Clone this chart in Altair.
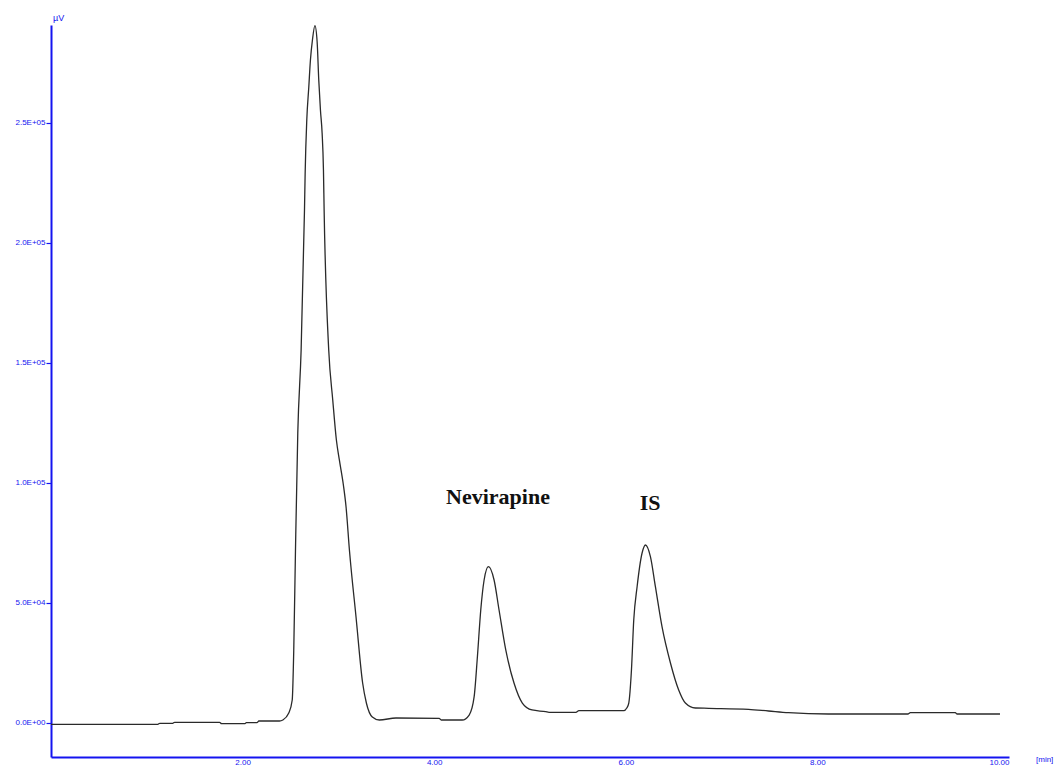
import altair as alt
import pandas as pd

# retention time (min) and detector response (µV)
time_min = [0.00, 1.115, 1.135, 1.27, 1.29, 1.76, 1.78, 2.02, 2.04, 2.15, 2.17, 2.385,
            2.42, 2.482, 2.518, 2.534, 2.552, 2.576, 2.611, 2.646, 2.653, 2.670, 2.691,
            2.708, 2.729, 2.755, 2.778, 2.795, 2.8125, 2.830, 2.844, 2.851, 2.899, 2.941,
            2.979, 3.010, 3.052, 3.080, 3.115, 3.184, 3.253, 3.292, 3.354, 3.427, 3.601,
            4.052, 4.073, 4.292, 4.365, 4.417, 4.451, 4.486, 4.521, 4.566, 4.625, 4.677,
            4.747, 4.833, 4.920, 5.021, 5.164, 5.198, 5.479, 5.510, 5.979, 6.010, 6.031,
            6.059, 6.083, 6.118, 6.170, 6.205, 6.257, 6.309, 6.378, 6.466, 6.552, 6.622,
            6.726, 6.865, 7.281, 7.490, 7.698, 8.115, 8.948, 8.970, 9.440, 9.458, 9.906]
signal_uv = [-540, -540, -125, -125, 290, 290, -290, -290, 125, 125, 830, 830,
             1250, 4170, 9580, 30400, 72100, 120800, 155400, 213750, 229170, 251250, 265000,
             276250, 284580, 290600, 283870, 267900, 255400, 245800, 230400, 213750, 155400, 134600,
             117900, 109600, 99170, 90000, 72100, 44170, 16670, 8330, 2500, 1250, 2080,
             1960, 1250, 1250, 3330, 10960, 27625, 47080, 59580, 65125, 59580, 47080,
             30420, 16670, 8330, 5420, 4710, 4460, 4460, 5125, 5125, 6250, 8330,
             22080, 42920, 56790, 70830, 74170, 69290, 56790, 40125, 25000, 13750, 8330,
             6250, 6125, 5710, 5000, 4290, 3750, 3750, 4290, 4290, 3750, 3750]

peak_labels = ["Nevirapine", "IS"]
label_time = [4.666, 6.253]
label_signal = [94170, 91670]

y_ticks = [0, 50000, 100000, 150000, 200000, 250000]
x_ticks = [2, 4, 6, 8, 10]

df = pd.DataFrame({"t": time_min, "v": signal_uv})
lab = pd.DataFrame({"t": label_time, "v": label_signal, "name": peak_labels})

blue = "#1414f0"

x_scale = alt.Scale(domain=[0, 10], nice=False, zero=False)
y_scale = alt.Scale(domain=[-14167, 290833], nice=False, zero=False)

line = alt.Chart(df).mark_line(color="#2a2a2a", strokeWidth=1.3, interpolate="monotone").encode(
    x=alt.X("t:Q", scale=x_scale,
            axis=alt.Axis(values=x_ticks, title=None, grid=False, ticks=False,
                          domainColor=blue, domainWidth=2, labelColor=blue,
                          labelFont="Liberation Sans", labelFontSize=8, labelPadding=1,
                          labelExpr="format(datum.value, '.2f')")),
    y=alt.Y("v:Q", scale=y_scale,
            axis=alt.Axis(values=y_ticks, title=None, grid=False, ticks=True, tickSize=5,
                          tickColor=blue, tickWidth=1.2,
                          domainColor=blue, domainWidth=2, labelColor=blue,
                          labelFont="Liberation Sans", labelFontSize=8, labelPadding=1,
                          labelExpr="datum.value == 0 ? '0.0E+00' : format(datum.value / pow(10, floor(log(datum.value)/LN10 + 1e-9)), '.1f') + 'E+0' + floor(log(datum.value)/LN10 + 1e-9)")),
)

text = alt.Chart(lab).mark_text(font="Liberation Serif", fontWeight="bold", fontSize=22,
                                color="#111111", baseline="middle", align="center").encode(
    x=alt.X("t:Q", scale=x_scale),
    y=alt.Y("v:Q", scale=y_scale),
    text="name:N",
)

unit_y = alt.Chart(pd.DataFrame({"s": ["µV"]})).mark_text(
    font="Liberation Sans", fontSize=9, color=blue, align="left", baseline="bottom").encode(
    x=alt.value(2), y=alt.value(-2), text="s:N")

unit_x = alt.Chart(pd.DataFrame({"s": ["[min]"]})).mark_text(
    font="Liberation Sans", fontSize=8, color=blue, align="left", baseline="top").encode(
    x=alt.value(985), y=alt.value(731), text="s:N")

chart = alt.layer(line, text, unit_y, unit_x).properties(
    width=958, height=732,
    autosize=alt.AutoSizeParams(type="none"),
    padding={"left": 51, "top": 25, "right": 46, "bottom": 10},
    background="white",
).configure_view(stroke=None)

chart.save("out.html", embed_options={"renderer": "svg", "actions": False})
